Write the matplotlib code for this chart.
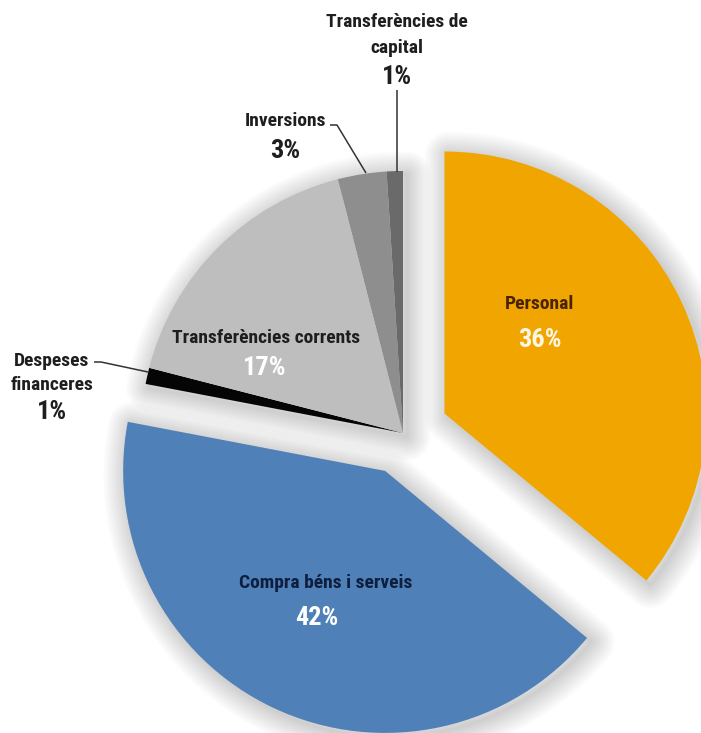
import numpy as np
import matplotlib
matplotlib.use("Agg")
import matplotlib.pyplot as plt
import matplotlib.patches as mpatches

# ---- data ----
categories = ["Personal", "Compra béns i serveis", "Despeses financeres",
              "Transferències corrents", "Inversions", "Transferències de capital"]
values = [36, 42, 1, 17, 3, 1]
pct_labels = ["36%", "42%", "1%", "17%", "3%", "1%"]
colors = ["#F0A500", "#4F81B8", "#050505", "#BEBEBE", "#8E8E8E", "#6A6A6A"]
explode_frac = [0.175, 0.16, 0, 0, 0, 0]

W, H = 701, 733
fig = plt.figure(figsize=(W / 100, H / 100), dpi=100)
ax = fig.add_axes([0, 0, 1, 1])

FONT = ["Liberation Sans Narrow", "Roboto Condensed", "Archivo Narrow",
        "PT Sans Narrow", "DejaVu Sans"]

cx, cy, R = 403, H - 433, 262
wedges, _ = ax.pie(values, colors=colors, startangle=90, counterclock=False,
                   explode=[e * R for e in explode_frac], center=(cx, cy), radius=R,
                   wedgeprops=dict(linewidth=0), frame=True)
ax.set_xlim(0, W)
ax.set_ylim(0, H)
ax.set_aspect("equal")
ax.axis("off")
for w in wedges:
    w.set_zorder(3)

# soft shadow (only for the three visual groups: orange, blue, grey block)
groups = [(wedges[0].center, wedges[0].theta1, wedges[0].theta2),
          (wedges[1].center, wedges[1].theta1, wedges[1].theta2),
          (wedges[2].center, wedges[5].theta1, wedges[2].theta2)]
for c, t1, t2 in groups:
    for lw in np.linspace(34, 2, 12):
        s = mpatches.Wedge((c[0] + 4, c[1] - 4), R, t1, t2,
                           facecolor="none", edgecolor="black", linewidth=lw,
                           alpha=0.015, zorder=1, joinstyle="round")
        ax.add_patch(s)

def T(x, y, s, size, color, **kw):
    ax.text(x, H - y, s, fontsize=size, color=color, ha="center", va="center",
            fontweight="bold", family=FONT, zorder=5, **kw)

LBL = 14
PCT = 19
# inside labels
T(540, 304, categories[0], LBL, "#4A2300")
T(540, 340, pct_labels[0], PCT, "#FFF6E6")
T(326, 583, categories[1], LBL, "#0E1E3E")
T(317, 618, pct_labels[1], PCT, "#FFFFFF")
T(266, 338, categories[3], LBL, "#1E1E1E")
T(265, 368, pct_labels[3], PCT, "#FFFFFF")

# outside labels
T(52, 361, "Despeses", LBL, "#1E1E1E")
T(52, 385, "financeres", LBL, "#1E1E1E")
T(52, 412, pct_labels[2], PCT, "#1E1E1E")
T(285, 121, categories[4], LBL, "#1E1E1E")
T(285, 151, pct_labels[4], PCT, "#1E1E1E")
T(397, 22, "Transferències de", LBL, "#1E1E1E")
T(397, 48, "capital", LBL, "#1E1E1E")
T(397, 77, pct_labels[5], PCT, "#1E1E1E")

# leader lines
def L(xs, ys):
    ax.plot(xs, [H - y for y in ys], color="#333333", lw=1.1, zorder=6,
            solid_capstyle="butt")

L([94, 101, 148], [362, 362, 372])
L([330, 337, 366], [125, 125, 173])
L([397, 397], [90, 172])

fig.savefig("out.png", dpi=100, facecolor="white")
